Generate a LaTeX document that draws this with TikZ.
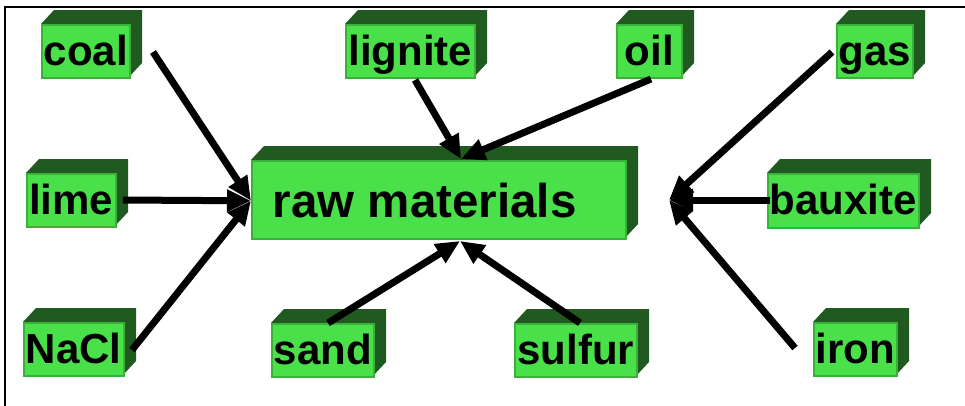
\documentclass[tikz,border=0pt]{standalone}
\usepackage{fontspec}
\setmainfont{Liberation Sans}
\usetikzlibrary{arrows.meta,calc}

\definecolor{facegreen}{RGB}{74,224,74}
\definecolor{rimgreen}{RGB}{58,178,58}
\definecolor{sidegreen}{RGB}{32,90,32}

% extruded block: #1 name, #2 x1, #3 y1, #4 x2, #5 y2 (front face, pixel units, y down),
% #6 text height, #7 text depth, #8 label
\newcommand\slab[8]{%
  \fill[sidegreen] (#2,#3) -- ++(13,-14) -- (#4+13,#3-14) -- (#4+13,#5-14)
    -- (#4,#5) -- (#4,#3) -- cycle;
  \node[face, anchor=north west, minimum width={(#4-#2)*1pt},
        text height=#6, text depth=#7] (#1) at (#2,#3) {#8};
}

\tikzset{
  face/.style={fill=facegreen, draw=rimgreen, line width=1.6pt, inner sep=0pt,
               font=\fontsize{42}{48}\selectfont\bfseries},
  feed/.style={line width=7pt, -{Triangle[length=24pt,width=21pt]}},
  frame/.style={line width=2pt, black}
}

\begin{document}
\begin{tikzpicture}[x=1pt, y=-1pt]
\useasboundingbox (0,0) rectangle (965,405);

% partial frame
\draw[frame] (5,406) -- (5,7) -- (966,7);

% blocks
\slab{coal}{41}{24}{129}{77}{41pt}{12pt}{coal}
\slab{lignite}{345}{24}{474}{77}{41pt}{12pt}{lignite}
\slab{oil}{616}{24}{681}{77}{41pt}{12pt}{oil}
\slab{gas}{836}{24}{912}{77}{41pt}{12pt}{gas}
\slab{lime}{26}{173}{115}{226}{41pt}{12pt}{lime}
\slab{bauxite}{767}{173}{918}{227}{41pt}{13pt}{bauxite}
\slab{nacl}{23}{322}{123}{375}{41pt}{12pt}{NaCl}
\slab{sand}{271}{323}{373}{376}{41pt}{12pt}{sand}
\slab{sulfur}{514}{323}{636}{376}{41pt}{12pt}{sulfur}
\slab{iron}{813}{322}{896}{375}{41pt}{12pt}{iron}
\slab{raw}{251}{160}{625}{238}{57pt}{21pt}{\fontsize{47.5}{54}\selectfont raw materials\hspace*{28pt}}

% connector ends
\coordinate (coalout) at (153,52);
\coordinate (limeout) at (123,200);
\coordinate (naclout) at (132,350);
\coordinate (ligniteout) at (415,80);
\coordinate (oilout) at (651,79);
\coordinate (sandout) at (328,323);
\coordinate (sulfurout) at (580,323);
\coordinate (gasout) at (832,52);
\coordinate (bauxiteout) at (770,200);
\coordinate (ironout) at (795,348);

\coordinate (westhub) at ($(raw.west)+(0,1)$);
\coordinate (northhub) at (461,159);
\coordinate (southhub) at (460,241);
\coordinate (easthub) at (669,200);

% feeds into the raw materials block
\draw[feed] (coalout) -- (westhub);
\draw[feed] (limeout) -- (westhub);
\draw[feed] (naclout) -- (westhub);
\draw[feed] (ligniteout) -- (northhub);
\draw[feed] (oilout) -- (northhub);
\draw[feed] (sandout) -- (southhub);
\draw[feed] (sulfurout) -- (southhub);
\draw[feed] (gasout) -- (easthub);
\draw[feed] (bauxiteout) -- (easthub);
\draw[feed] (ironout) -- (easthub);
\end{tikzpicture}
\end{document}
